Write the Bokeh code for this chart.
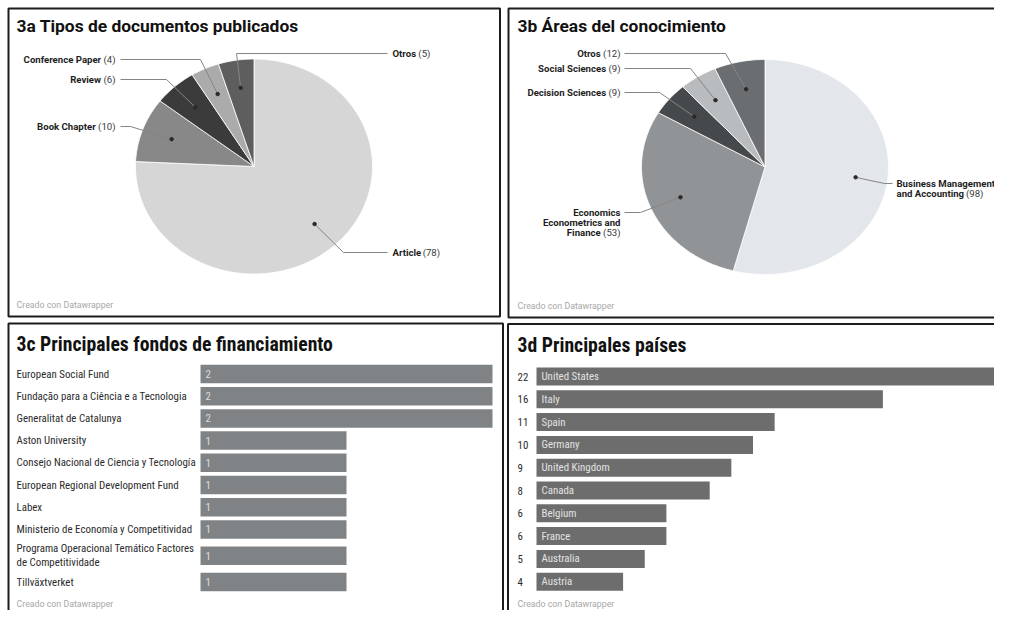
import numpy as np
from bokeh.plotting import figure
from bokeh.models import Range1d, BoxAnnotation, Label
from bokeh.layouts import row, column
from bokeh.embed import file_html
from bokeh.resources import INLINE
from bokeh.core.properties import value

# ---------------- data ----------------
doc_types = ["Article", "Book Chapter", "Review", "Conference Paper", "Otros"]
doc_counts = [78, 10, 6, 4, 5]
doc_colors = ["#d6d6d6", "#888888", "#3b3b3b", "#ababab", "#5e5e5e"]

areas = ["Business Management and Accounting", "Economics Econometrics and Finance",
         "Decision Sciences", "Social Sciences", "Otros"]
area_labels = [["Business Management", "and Accounting"],
               ["Economics", "Econometrics and", "Finance"],
               ["Decision Sciences"], ["Social Sciences"], ["Otros"]]
area_counts = [98, 53, 9, 9, 12]
area_colors = ["#e3e7eb", "#909497", "#45494c", "#b9bcbf", "#6a6e71"]

funders = ["European Social Fund", "Fundação para a Ciência e a Tecnologia",
           "Generalitat de Catalunya", "Aston University",
           "Consejo Nacional de Ciencia y Tecnología", "European Regional Development Fund",
           "Labex", "Ministerio de Economía y Competitividad",
           "Programa Operacional Temático Factores\nde Competitividade", "Tillväxtverket"]
funder_counts = [2, 2, 2, 1, 1, 1, 1, 1, 1, 1]

countries = ["United States", "Italy", "Spain", "Germany", "United Kingdom",
             "Canada", "Belgium", "France", "Australia", "Austria"]
country_counts = [22, 16, 11, 10, 9, 8, 6, 6, 5, 4]

titles = ["3a Tipos de documentos publicados", "3b Áreas del conocimiento",
          "3c Principales fondos de financiamiento", "3d Principales países"]
credit = "Creado con Datawrapper"

# ---------------- styling helpers ----------------
BORDER = "#1c1c1c"
ROBOTO_N = "Roboto"
COND_N = "Roboto Condensed"
ROBOTO = value(ROBOTO_N)
COND = value(COND_N)
LBL = 9.6
BAR_FONT = "10.9px"

BOLD_W = dict(a=.542, b=.561, c=.523, d=.563, e=.53, f=.35, g=.563, h=.553, i=.25, j=.245,
              k=.515, l=.25, m=.875, n=.553, o=.57, p=.561, q=.563, r=.35, s=.515, t=.33,
              u=.553, v=.49, w=.75, x=.497, y=.48, z=.497, A=.66, B=.63, C=.648, D=.64,
              E=.556, F=.54, G=.675, H=.70, I=.287, M=.87, O=.68, P=.637, R=.62, S=.6, T=.61)
BOLD_W[" "] = .25
REG_W = {"(": .342, ")": .348, " ": .248}
for dgt in "0123456789":
    REG_W[dgt] = .562


def tw(s, table, size):
    return sum(table.get(ch, .55) for ch in s) * size


def base_fig(w, h, xr, yr):
    p = figure(width=w, height=h, x_range=xr, y_range=yr, min_border=0,
               toolbar_location=None, output_backend="svg",
               x_axis_location=None, y_axis_location=None,
               outline_line_color=None, background_fill_color="white",
               border_fill_color="white")
    p.grid.grid_line_color = None
    return p


def border(p, left, right, top, bottom):
    p.add_layout(BoxAnnotation(left=left, right=right, top=top, bottom=bottom,
                               fill_color=None, fill_alpha=0, line_color=BORDER,
                               line_alpha=1, line_width=2, line_dash="solid"))


def pie(p, counts, colors, labels, layout, cx, cy, rx, ry, fsize=LBL):
    total = float(sum(counts))
    cum = np.concatenate([[0], np.cumsum(counts)])
    xs, ys, dx, dy = [], [], [], []
    for i in range(len(counts)):
        a0 = 2 * np.pi * cum[i] / total
        a1 = 2 * np.pi * cum[i + 1] / total
        t = np.linspace(a0, a1, max(6, int(240 * (a1 - a0) / (2 * np.pi)) + 2))
        xs.append(list(np.concatenate([[cx], cx + rx * np.sin(t)])))
        ys.append(list(np.concatenate([[cy], cy - ry * np.cos(t)])))
        m = (a0 + a1) / 2
        dx.append(cx + 0.74 * rx * np.sin(m))
        dy.append(cy - 0.74 * ry * np.cos(m))
    p.patches(xs, ys, fill_color=colors, line_color="white", line_width=0.8)

    lx, ly = [], []
    nx, ny, nt, na = [], [], [], []
    vx, vy, vt, va = [], [], [], []
    for i, lines in enumerate(labels):
        L = layout[i]
        lx.append([L["start"], L["elbow"], dx[i]])
        ly.append([L["y"], L["y"], dy[i]])
        num = "(%d)" % counts[i]
        for k, line in enumerate(lines):
            yk = L["y"] + 10 * k
            last = k == len(lines) - 1
            if L["side"] == "L":
                if last:
                    vx.append(L["x"]); vy.append(yk); vt.append(num); va.append("right")
                    nx.append(L["x"] - tw(" " + num, REG_W, fsize))
                else:
                    nx.append(L["x"])
                ny.append(yk); nt.append(line); na.append("right")
            else:
                nx.append(L["x"]); ny.append(yk); nt.append(line); na.append("left")
                if last:
                    vx.append(L["x"] + tw(line + " ", BOLD_W, fsize)); vy.append(yk)
                    vt.append(num); va.append("left")
    p.multi_line(lx, ly, line_color="#858585", line_width=1)
    p.scatter(dx, dy, size=3.5, color="#2a2a2a")
    p.text(nx, ny, text=nt, text_align=na, text_baseline="middle", text_font=ROBOTO,
           text_font_style="bold", text_font_size="%.1fpx" % fsize, text_color="#1e1e1e")
    p.text(vx, vy, text=vt, text_align=va, text_baseline="middle", text_font=ROBOTO,
           text_font_size="%.1fpx" % fsize, text_color="#3a3a3a")


# ---------------- 3a ----------------
p1 = base_fig(504, 319, Range1d(0, 504), Range1d(319, 0))
layout_a = [
    dict(side="R", x=392, y=252, elbow=343, start=387),
    dict(side="L", x=115, y=126, elbow=130, start=120),
    dict(side="L", x=115, y=79, elbow=166, start=120),
    dict(side="L", x=115, y=59, elbow=200, start=120),
    dict(side="R", x=392, y=53, elbow=236, start=387),
]
pie(p1, doc_counts, doc_colors, [[n] for n in doc_types], layout_a, 253.5, 166, 118.5, 107.5)
p1.add_layout(Label(x=16, y=25, text=titles[0], text_font=ROBOTO_N, text_font_style="bold",
                    text_font_size="17.4px", text_baseline="middle", text_color="#111111"))
p1.add_layout(Label(x=16, y=304, text=credit, text_font=ROBOTO_N, text_font_size="8.8px",
                    text_baseline="middle", text_color="#a8a8a8"))
border(p1, 8, 499.5, 8, 316)

# ---------------- 3b ----------------
p2 = base_fig(490, 319, Range1d(504, 994), Range1d(319, 0))
layout_b = [
    dict(side="R", x=896, y=183, elbow=884, start=892),
    dict(side="L", x=620, y=212, elbow=640, start=624),
    dict(side="L", x=620, y=92, elbow=659, start=624),
    dict(side="L", x=620, y=68, elbow=690, start=624),
    dict(side="L", x=620, y=53, elbow=725, start=624),
]
pie(p2, area_counts, area_colors, area_labels, layout_b, 764.5, 166.5, 123.5, 107.5)
p2.add_layout(Label(x=517, y=25, text=titles[1], text_font=ROBOTO_N, text_font_style="bold",
                    text_font_size="17.4px", text_baseline="middle", text_color="#111111"))
p2.add_layout(Label(x=517, y=305, text=credit, text_font=ROBOTO_N, text_font_size="8.8px",
                    text_baseline="middle", text_color="#a8a8a8"))
border(p2, 508, 1020, 8, 317)

# ---------------- 3c ----------------
X0c, Sc = 200.0, 146.0          # pixel of value 0, pixels per unit
def xc(px):
    return (px - X0c) / Sc

p3 = base_fig(505, 291, Range1d(xc(0), xc(505)), Range1d(610, 319))
n_lines = [f.count("\n") + 1 for f in funders]
yc = [373.5]
for i in range(1, len(funders)):
    yc.append(yc[-1] + 22.2 + 4.1 * ((n_lines[i] - 1) + (n_lines[i - 1] - 1)))
p3.hbar(y=yc, left=0, right=funder_counts, height=18.5, fill_color="#808386", line_color=None)
p3.text(x=[xc(16)] * len(funders), y=yc, text=funders, text_baseline="middle",
        text_font=COND, text_font_size=BAR_FONT, text_color="#2b2b2b", text_line_height=1.1)
p3.text(x=[0] * len(funders), y=yc, text=[str(v) for v in funder_counts], x_offset=5,
        text_baseline="middle", text_font=COND, text_font_size=BAR_FONT, text_color="#dcdcdc")
p3.add_layout(Label(x=xc(16), y=344, text=titles[2], text_font=COND_N, text_font_style="bold",
                    text_font_size="19.7px", text_baseline="middle", text_color="#111111"))
p3.add_layout(Label(x=xc(16), y=603, text=credit, text_font=ROBOTO_N, text_font_size="8.8px",
                    text_baseline="middle", text_color="#a8a8a8"))
border(p3, xc(8), xc(502.5), 323, 640)

# ---------------- 3d ----------------
X0d, Sd = 536.0, 21.65
def xd(px):
    return (px - X0d) / Sd

p4 = base_fig(489, 291, Range1d(xd(505), xd(994)), Range1d(610, 319))
yd = [376 + 22.8 * i for i in range(len(countries))]
p4.hbar(y=yd, left=0, right=country_counts, height=18, fill_color="#6d6d6d", line_color=None)
p4.text(x=[xd(517)] * len(countries), y=yd, text=[str(v) for v in country_counts],
        text_baseline="middle", text_font=COND, text_font_size=BAR_FONT, text_color="#2b2b2b")
p4.text(x=[0] * len(countries), y=yd, text=countries, x_offset=5, text_baseline="middle",
        text_font=COND, text_font_size=BAR_FONT, text_color="#e2e2e2")
p4.add_layout(Label(x=xd(517), y=345, text=titles[3], text_font=COND_N, text_font_style="bold",
                    text_font_size="19.7px", text_baseline="middle", text_color="#111111"))
p4.add_layout(Label(x=xd(517), y=603, text=credit, text_font=ROBOTO_N, text_font_size="8.8px",
                    text_baseline="middle", text_color="#a8a8a8"))
border(p4, xd(507.5), xd(1020), 323.5, 640)

page = column(row(p1, p2, spacing=0), row(p3, p4, spacing=0), spacing=0)
open("out.html", "w").write(file_html(page, INLINE))
